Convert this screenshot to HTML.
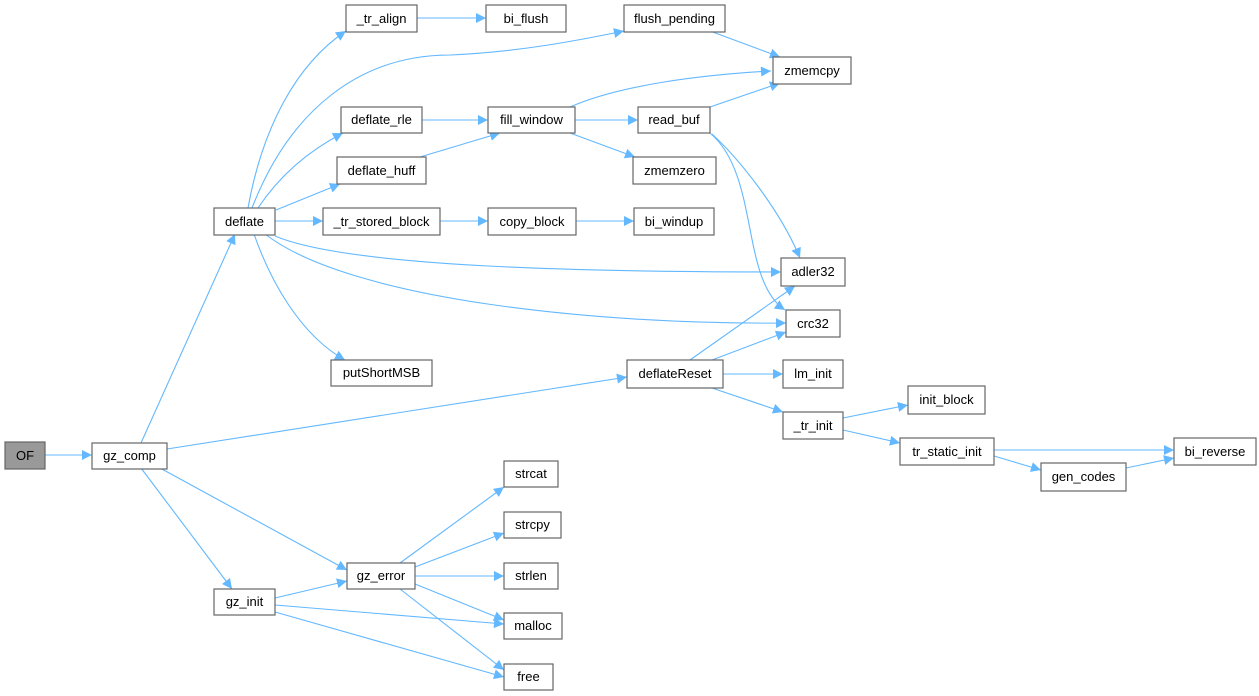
<!DOCTYPE html>
<html><head><meta charset="utf-8"><style>
html,body{margin:0;padding:0;background:#fff;}
svg{display:block;}
text{font-family:"Liberation Sans",Arial,sans-serif;font-size:13px;fill:#000;text-anchor:middle;}
.n{fill:#fff;stroke:#666;stroke-width:1.2;}
.e{fill:none;stroke:#63b8ff;stroke-width:1.1;}
</style></head><body>
<svg width="1259" height="696" viewBox="0 0 1259 696" xmlns="http://www.w3.org/2000/svg">
<defs><marker id="a" viewBox="0 0 10 10" refX="10" refY="5" markerWidth="13" markerHeight="10" markerUnits="userSpaceOnUse" orient="auto"><path d="M0,0 L10,5 L0,10 z" fill="#63b8ff"/></marker></defs>
<g class="e" marker-end="url(#a)">
<path d="M45,455 L92,455"/>
<path d="M141,443 L235,234"/>
<path d="M167,449 L627,377"/>
<path d="M160,468 L347,570"/>
<path d="M141,468 L232,589"/>
<path d="M248,208 C262,130 295,65 346,31"/>
<path d="M252,208 C290,110 360,55 450,55 C520,52 580,40 624,31"/>
<path d="M258,208 C280,175 310,150 343,133"/>
<path d="M276,210 L340,184"/>
<path d="M275,221 L323,221"/>
<path d="M275,236 C350,268 600,272 781,272"/>
<path d="M265,234 C350,300 600,325 786,323"/>
<path d="M254,234 C270,280 300,335 345,360"/>
<path d="M417,18 L486,18"/>
<path d="M422,120 L488,120"/>
<path d="M420,157 L500,133"/>
<path d="M440,221 L488,221"/>
<path d="M570,107 C620,85 700,75 771,71"/>
<path d="M575,120 L638,120"/>
<path d="M570,133 L635,157"/>
<path d="M576,221 L634,221"/>
<path d="M710,31 L780,57"/>
<path d="M710,107 L780,83"/>
<path d="M712,134 C740,160 780,210 800,258"/>
<path d="M710,133 C760,175 740,280 785,310"/>
<path d="M690,360 L795,286"/>
<path d="M712,360 L786,332"/>
<path d="M723,374 L783,374"/>
<path d="M712,388 L783,412"/>
<path d="M843,418 L908,405"/>
<path d="M843,430 L900,443"/>
<path d="M994,450 L1174,450"/>
<path d="M994,456 L1041,470"/>
<path d="M1126,468 L1174,458"/>
<path d="M275,598 L347,581"/>
<path d="M275,605 L504,624"/>
<path d="M275,612 L504,677"/>
<path d="M400,563 L504,487"/>
<path d="M415,567 L504,533"/>
<path d="M415,576 L504,576"/>
<path d="M415,584 L504,620"/>
<path d="M400,589 L504,670"/>
</g>
<g>
<rect x="5" y="442" width="40" height="27" fill="#999" stroke="#666" stroke-width="1.2"/><text x="25" y="460">OF</text>
<rect class="n" x="92" y="443" width="75" height="26"/><text x="129.5" y="460">gz_comp</text>
<rect class="n" x="214" y="208" width="61" height="27"/><text x="244.5" y="226">deflate</text>
<rect class="n" x="214" y="589" width="61" height="26"/><text x="244.5" y="606">gz_init</text>
<rect class="n" x="346" y="5" width="71" height="27"/><text x="381.5" y="23">_tr_align</text>
<rect class="n" x="341" y="107" width="81" height="26"/><text x="381.5" y="124">deflate_rle</text>
<rect class="n" x="337" y="157" width="89" height="27"/><text x="381.5" y="175">deflate_huff</text>
<rect class="n" x="323" y="208" width="117" height="27"/><text x="381.5" y="226">_tr_stored_block</text>
<rect class="n" x="331" y="360" width="101" height="26"/><text x="381.5" y="377">putShortMSB</text>
<rect class="n" x="347" y="563" width="68" height="26"/><text x="381" y="580">gz_error</text>
<rect class="n" x="486" y="5" width="80" height="27"/><text x="526" y="23">bi_flush</text>
<rect class="n" x="488" y="107" width="87" height="26"/><text x="531.5" y="124">fill_window</text>
<rect class="n" x="488" y="208" width="88" height="27"/><text x="532" y="226">copy_block</text>
<rect class="n" x="504" y="461" width="54" height="26"/><text x="531" y="478">strcat</text>
<rect class="n" x="504" y="512" width="57" height="26"/><text x="532.5" y="529">strcpy</text>
<rect class="n" x="504" y="563" width="54" height="26"/><text x="531" y="580">strlen</text>
<rect class="n" x="504" y="613" width="58" height="26"/><text x="533" y="630">malloc</text>
<rect class="n" x="504" y="664" width="49" height="26"/><text x="528.5" y="681">free</text>
<rect class="n" x="624" y="5" width="101" height="27"/><text x="674.5" y="23">flush_pending</text>
<rect class="n" x="638" y="107" width="72" height="26"/><text x="674" y="124">read_buf</text>
<rect class="n" x="633" y="157" width="83" height="27"/><text x="674.5" y="175">zmemzero</text>
<rect class="n" x="634" y="208" width="80" height="27"/><text x="674" y="226">bi_windup</text>
<rect class="n" x="627" y="360" width="96" height="28"/><text x="675" y="378">deflateReset</text>
<rect class="n" x="773" y="57" width="78" height="27"/><text x="812" y="75">zmemcpy</text>
<rect class="n" x="781" y="258" width="64" height="28"/><text x="813" y="276">adler32</text>
<rect class="n" x="786" y="310" width="54" height="27"/><text x="813" y="328">crc32</text>
<rect class="n" x="783" y="360" width="60" height="28"/><text x="813" y="378">lm_init</text>
<rect class="n" x="783" y="412" width="60" height="27"/><text x="813" y="430">_tr_init</text>
<rect class="n" x="908" y="386" width="77" height="28"/><text x="946.5" y="404">init_block</text>
<rect class="n" x="900" y="438" width="94" height="27"/><text x="947" y="456">tr_static_init</text>
<rect class="n" x="1041" y="463" width="85" height="28"/><text x="1083.5" y="481">gen_codes</text>
<rect class="n" x="1174" y="438" width="82" height="27"/><text x="1215" y="456">bi_reverse</text>
</g>
</svg>
</body></html>
